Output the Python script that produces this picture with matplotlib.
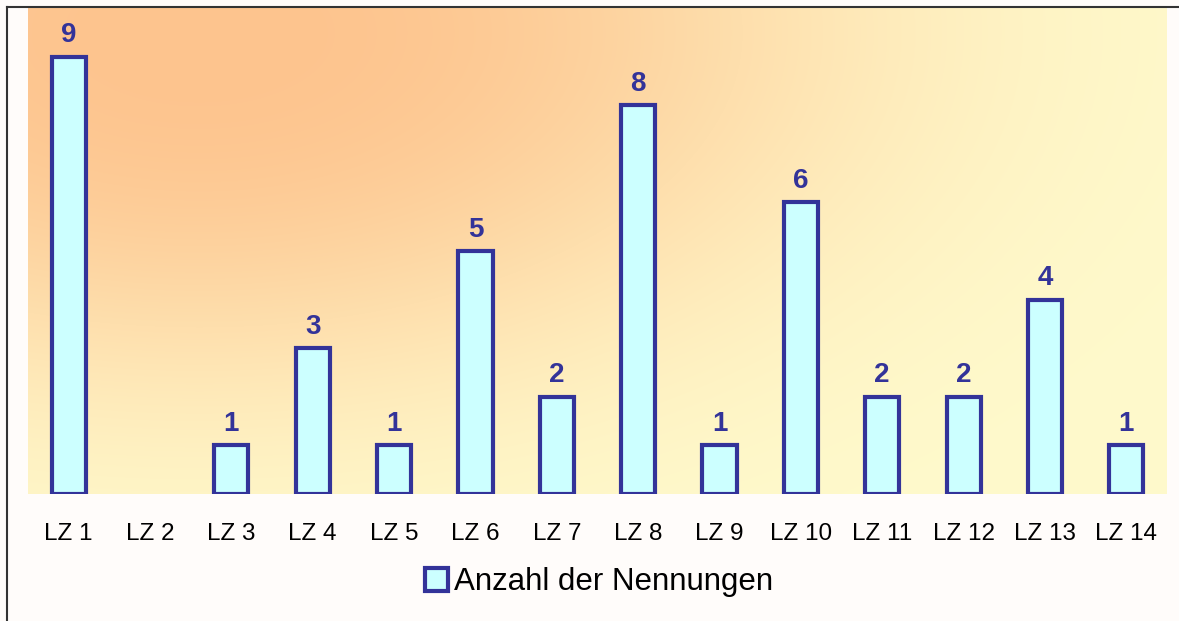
import matplotlib.pyplot as plt
import numpy as np
from matplotlib.lines import Line2D
from matplotlib.patches import Patch

# Data
categories = ['LZ 1', 'LZ 2', 'LZ 3', 'LZ 4', 'LZ 5', 'LZ 6', 'LZ 7',
              'LZ 8', 'LZ 9', 'LZ 10', 'LZ 11', 'LZ 12', 'LZ 13', 'LZ 14']
nennungen = [9, 0, 1, 3, 1, 5, 2, 8, 1, 6, 2, 2, 4, 1]
series_name = 'Anzahl der Nennungen'

edge = '#333399'
fill = '#CCFFFF'

plt.rcParams['font.family'] = ['Liberation Sans', 'DejaVu Sans']

fig = plt.figure(figsize=(11.79, 6.21), dpi=100, facecolor='#FFFCFA')
ax = fig.add_axes([28 / 1179, 1 - 494 / 621, (1167 - 28) / 1179, (494 - 8) / 621])

# gradient background: orange in top-left fading to pale yellow
h, w = 300, 600
xx, yy = np.meshgrid(np.linspace(0, 1, w), np.linspace(1, 0, h))
wgt = np.exp(-(((xx - 0.15) / 0.55) ** 2 + ((yy - 0.95) / 0.7) ** 2) ** 1.3)
orange = np.array([253, 196, 142]) / 255
yellow = np.array([255, 250, 204]) / 255
img = yellow + wgt[..., None] * (orange - yellow)
ax.imshow(img, extent=[-0.5, 13.5, 0, 10], aspect='auto', zorder=0,
          interpolation='bilinear')

x = np.arange(len(categories))
bars = ax.bar(x, nennungen, width=0.42, color=fill, edgecolor=edge, linewidth=3,
              zorder=2, label=series_name)
for b, v in zip(bars, nennungen):
    if v == 0:
        b.set_visible(False)

for xi, v in zip(x, nennungen):
    if v > 0:
        ax.annotate(str(v), (xi, v), xytext=(0, 6), textcoords='offset points',
                    ha='center', va='bottom', fontsize=20, fontweight='bold',
                    color=edge)

ax.set_xlim(-0.5, 13.5)
ax.set_ylim(0, 10)
ax.set_xticks(x)
ax.set_xticklabels(categories, fontsize=17.5)
ax.tick_params(axis='x', length=0, pad=21)
ax.set_yticks([])
for s in ax.spines.values():
    s.set_visible(False)

handle = Patch(facecolor=fill, edgecolor=edge, linewidth=3)
fig.legend([handle], [series_name], loc='center', bbox_to_anchor=(0.508, 1 - 582 / 621),
           frameon=False, fontsize=22.5, handlelength=0.75, handleheight=0.75,
           handletextpad=0.2, borderpad=0)

# outer frame on left and top
fig.add_artist(Line2D([7 / 1179, 7 / 1179], [0, 1 - 7 / 621], color='#333333', lw=1.5))
fig.add_artist(Line2D([7 / 1179, 1], [1 - 7 / 621, 1 - 7 / 621], color='#333333', lw=1.5))

fig.savefig('out.png', dpi=100, facecolor=fig.get_facecolor())
